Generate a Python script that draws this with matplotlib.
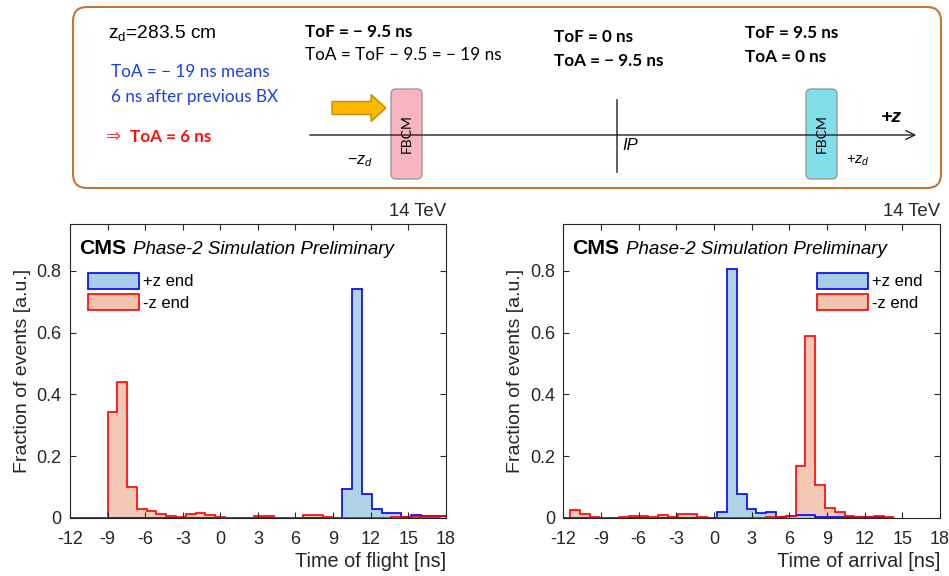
import numpy as np
import matplotlib
matplotlib.use("Agg")
import matplotlib.pyplot as plt
import matplotlib.patches as patches
from matplotlib.patches import Patch

plt.rcParams['font.family'] = ['Liberation Sans', 'DejaVu Sans']
plt.rcParams['mathtext.fontset'] = 'custom'
plt.rcParams['mathtext.rm'] = 'Liberation Sans'
plt.rcParams['mathtext.it'] = 'Liberation Sans:italic'
plt.rcParams['mathtext.bf'] = 'Liberation Sans:bold'

# ---- data (fraction of events per 0.78125 ns bin) ----
bin_width = 0.78125
tof_start = -12.125
tof_plus = [0.001] * 28 + [0.093, 0.741, 0.077, 0.028, 0.016, 0.015, 0.003,
                           0.009, 0.007, 0.007, 0.005]
tof_minus = [0.001, 0.001, 0.001, 0.001, 0.343, 0.439, 0.100, 0.029, 0.023, 0.013,
             0.006, 0.002, 0.014, 0.017, 0.011, 0.002, 0.001, 0.001, 0.001, 0.005,
             0.005, 0.001, 0.001, 0.001, 0.009, 0.009, 0.002, 0.001, 0.001, 0.001,
             0.001, 0.001, 0.001, 0.002, 0.003, 0.003, 0.003, 0.003, 0.007]

toa_start = -12.25
toa_plus = [0.001] * 16 + [0.019, 0.805, 0.078, 0.030, 0.016, 0.019, 0.004, 0.005,
                           0.009, 0.009, 0.003, 0.004, 0.004, 0.002, 0.002, 0.003,
                           0.002, 0.001]
toa_minus = [0.001, 0.027, 0.012, 0.002, 0.001, 0.001, 0.002, 0.007, 0.006, 0.002,
             0.009, 0.002, 0.013, 0.012, 0.002, 0.001, 0.001, 0.001, 0.001, 0.001,
             0.001, 0.002, 0.003, 0.006, 0.168, 0.590, 0.106, 0.032, 0.018, 0.008,
             0.004, 0.003, 0.008, 0.002]

x_ticks = [-12, -9, -6, -3, 0, 3, 6, 9, 12, 15, 18]
y_ticks = [0, 0.2, 0.4, 0.6, 0.8]
y_ticklabels = ["0", "0.2", "0.4", "0.6", "0.8"]
series_labels = ["+z end", "-z end"]

blue_edge, blue_fill = "#0000ff", "#a8cfe8"
red_edge, red_fill = "#ff0000", "#f2c4ae"
txt_col = "#262626"

fig = plt.figure(figsize=(9.49, 5.76), dpi=100)

# ---- schematic panel (pixel coordinates) ----
ax0 = fig.add_axes([0, 0, 1, 1])
ax0.set_xlim(0, 949)
ax0.set_ylim(576, 0)
ax0.axis("off")

cal = ['Lato', 'DejaVu Sans']
fs = 12.3
ax0.add_patch(patches.FancyBboxPatch((73, 7), 868, 181,
              boxstyle="round,pad=0,rounding_size=14", fc="white", ec="#c8762f", lw=1.5))
ax0.text(108, 33, r"z$_\mathregular{d}$=283.5 cm", fontsize=13.8, va="center", color="black")
ax0.text(111, 72, "ToA = \u2212 19 ns means", fontsize=fs, va="center", color="#1f3fe0", family=cal)
ax0.text(111, 97, "6 ns after previous BX", fontsize=fs, va="center", color="#1f3fe0", family=cal)
ax0.text(106, 137, "\u21d2", fontsize=13, va="center", color="#ff4040", family=['DejaVu Sans'])
ax0.text(130, 137, "ToA = 6 ns", fontsize=fs, va="center", color="#ff1010", family=cal,
         fontweight="bold")
ax0.text(305, 32, "ToF = \u2212 9.5 ns", fontsize=fs, va="center", family=cal, fontweight="bold")
ax0.text(305, 55, "ToA = ToF \u2212 9.5 = \u2212 19 ns", fontsize=fs, va="center", family=cal)
ax0.text(554, 37, "ToF = 0 ns", fontsize=fs, va="center", family=cal, fontweight="bold")
ax0.text(554, 61, "ToA = \u2212 9.5 ns", fontsize=fs, va="center", family=cal, fontweight="bold")
ax0.text(745, 33, "ToF = 9.5 ns", fontsize=fs, va="center", family=cal, fontweight="bold")
ax0.text(745, 57, "ToA = 0 ns", fontsize=fs, va="center", family=cal, fontweight="bold")

ax0.annotate("", xy=(919, 135), xytext=(307, 135),
             arrowprops=dict(arrowstyle="->", lw=1.0, color="#222222", mutation_scale=16))
ax0.plot([617, 617], [100, 172], color="#444444", lw=1.2)
ax0.text(622, 146, "IP", fontsize=12, style="italic", va="center")
ax0.text(347, 161, r"$-z_d$", fontsize=11.5, va="center")
ax0.text(846, 161, r"$+z_d$", fontsize=10.5, va="center")
ax0.text(881, 118, "+z", fontsize=14, va="center", fontweight="bold", style="italic")

for x0, fc in [(391, "#f7b6bf"), (806, "#80dfe8")]:
    ax0.add_patch(patches.FancyBboxPatch((x0, 89), 31, 90,
                  boxstyle="round,pad=0,rounding_size=5", fc=fc, ec="#9a9a9a", lw=1.0))
    ax0.text(x0 + 15.5, 134, "FBCM", rotation=90, ha="center", va="center", fontsize=10,
             family=cal)

ax0.add_patch(patches.FancyArrow(332, 108, 54, 0, width=13, head_width=27, head_length=15,
                                 length_includes_head=True, fc="#f8b800", ec="#c88f00", lw=1))


# ---- histograms ----
def draw_panel(rect, start, plus, minus, xlabel, legend_x):
    ax = fig.add_axes(rect)
    edges_p = start + bin_width * np.arange(len(plus) + 1)
    edges_m = start + bin_width * np.arange(len(minus) + 1)
    ax.stairs(minus, edges_m, fill=True, color=red_fill, alpha=0.9)
    ax.stairs(plus, edges_p, fill=True, color=blue_fill, alpha=0.9)
    ax.stairs(plus, edges_p, color=blue_edge, lw=1.2, baseline=None)
    ax.stairs(minus, edges_m, color=red_edge, lw=1.2, baseline=None)
    ax.set_xlim(-12, 18)
    ax.set_ylim(0, 0.952)
    ax.set_xticks(x_ticks)
    ax.set_xticklabels([str(t) for t in x_ticks])
    ax.set_yticks(y_ticks)
    ax.set_yticklabels(y_ticklabels)
    ax.tick_params(direction="in", top=True, right=True, length=4, width=0.8,
                   labelsize=13, colors=txt_col)
    ax.tick_params(axis="x", pad=9)
    ax.tick_params(axis="y", pad=6)
    for s in ax.spines.values():
        s.set_color(txt_col)
        s.set_linewidth(0.8)
    ax.set_xlabel(xlabel, fontsize=14.3, color=txt_col, loc="right", labelpad=3)
    ax.set_ylabel("Fraction of events [a.u.]", fontsize=14, color=txt_col, labelpad=4)
    ax.text(1.0, 1.012, "14 TeV", transform=ax.transAxes, ha="right", va="bottom",
            fontsize=13.4, color=txt_col)
    ax.text(0.024, 0.915, "CMS", transform=ax.transAxes, fontsize=15.3, fontweight="bold",
            va="center")
    ax.text(0.167, 0.913, "Phase-2 Simulation Preliminary", transform=ax.transAxes,
            fontsize=13.5, style="italic", va="center")
    handles = [Patch(fc=blue_fill, ec=blue_edge, lw=1.2), Patch(fc=red_fill, ec=red_edge, lw=1.2)]
    ax.legend(handles, series_labels, loc="upper left", bbox_to_anchor=(legend_x, 0.835),
              frameon=False, fontsize=12, handlelength=3.05, handleheight=1.1,
              handletextpad=0.25, labelspacing=0.3, borderpad=0, borderaxespad=0)
    return ax


draw_panel([70 / 949, 58 / 576, 375.7 / 949, 294 / 576], tof_start, tof_plus, tof_minus,
           "Time of flight [ns]", 0.048)
draw_panel([563.3 / 949, 58 / 576, 376.7 / 949, 294 / 576], toa_start, toa_plus, toa_minus,
           "Time of arrival [ns]", 0.673)

fig.savefig("out.png", dpi=100)
